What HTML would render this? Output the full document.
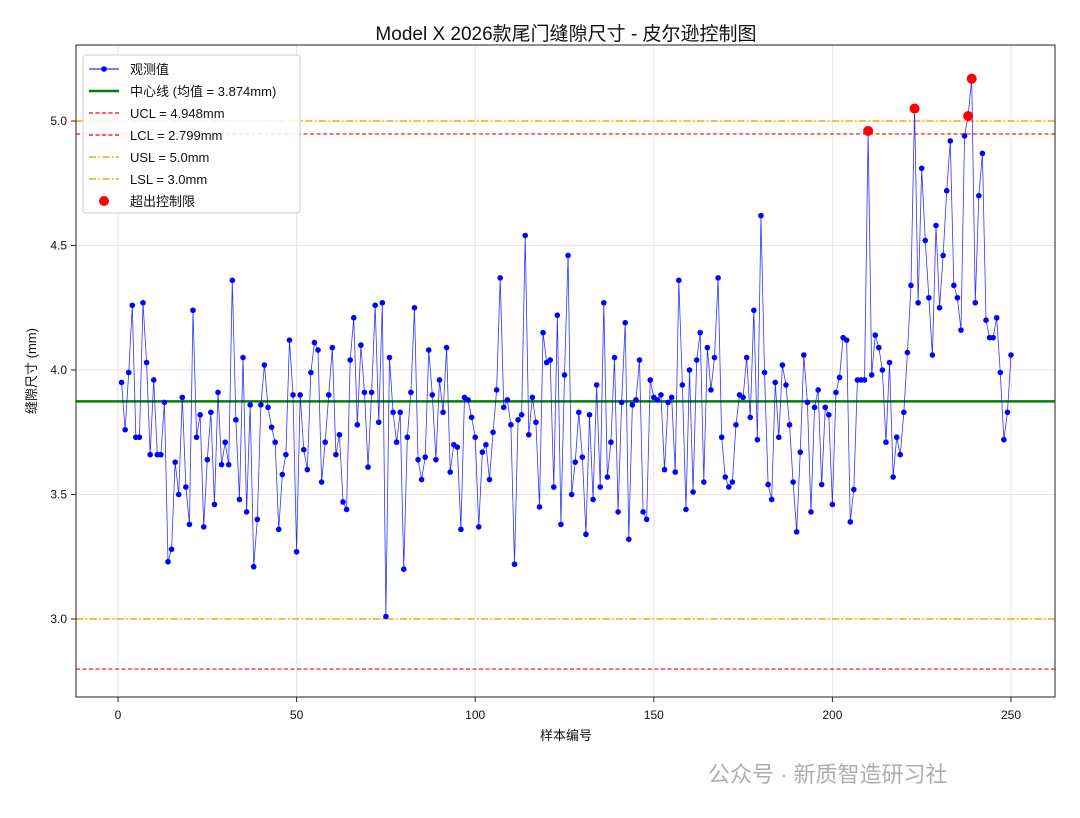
<!DOCTYPE html>
<html><head><meta charset="utf-8">
<style>
html,body{margin:0;padding:0;background:#fff;}
svg{display:block;font-family:"Liberation Sans","Noto Sans CJK SC",sans-serif;}
</style></head>
<body>
<svg id="chart" width="1080" height="818" viewBox="0 0 1080 818" xmlns="http://www.w3.org/2000/svg">
<rect x="0" y="0" width="1080" height="818" fill="#fff"/>
<text x="566" y="40" text-anchor="middle" font-size="19" fill="#111">Model X 2026款尾门缝隙尺寸 - 皮尔逊控制图</text>
<g id="grid"></g>
<g id="refs"></g>
<g id="series"></g>
<rect x="76" y="45" width="979" height="652" fill="none" stroke="#222" stroke-width="1"/>
<g id="axes"></g>
<text x="566" y="740" text-anchor="middle" font-size="13" fill="#111">样本编号</text>
<text transform="translate(36,371) rotate(-90)" text-anchor="middle" font-size="13" fill="#111">缝隙尺寸 (mm)</text>
<g>
<rect x="83" y="55" width="217" height="158" rx="3" fill="#fff" fill-opacity="0.85" stroke="#ccc"/>
<g><line x1="89" y1="69" x2="119" y2="69" stroke="#0000ff" stroke-width="1"/><circle cx="104" cy="69" r="2.8" fill="#0000ff"/><text x="130" y="74" font-size="13" fill="#111">观测值</text></g>
<g><line x1="89" y1="91" x2="119" y2="91" stroke="green" stroke-width="2.5"/><text x="130" y="96" font-size="13" fill="#111">中心线 (均值 = 3.874mm)</text></g>
<g><line x1="89" y1="113" x2="119" y2="113" stroke="red" stroke-width="1.2" stroke-dasharray="4,2.5"/><text x="130" y="118" font-size="13" fill="#111">UCL = 4.948mm</text></g>
<g><line x1="89" y1="135" x2="119" y2="135" stroke="red" stroke-width="1.2" stroke-dasharray="4,2.5"/><text x="130" y="140" font-size="13" fill="#111">LCL = 2.799mm</text></g>
<g><line x1="89" y1="157" x2="119" y2="157" stroke="orange" stroke-width="1.5" stroke-dasharray="7,2.5,1.5,2.5"/><text x="130" y="162" font-size="13" fill="#111">USL = 5.0mm</text></g>
<g><line x1="89" y1="179" x2="119" y2="179" stroke="orange" stroke-width="1.5" stroke-dasharray="7,2.5,1.5,2.5"/><text x="130" y="184" font-size="13" fill="#111">LSL = 3.0mm</text></g>
<g><circle cx="104" cy="201" r="5" fill="red"/><text x="130" y="206" font-size="13" fill="#111">超出控制限</text></g>
</g>
<text x="708" y="782" font-size="22" fill="#999" fill-opacity="0.8">公众号 · 新质智造研习社</text>
</svg>
<script>
const values = [3.95,3.76,3.99,4.26,3.73,3.73,4.27,4.03,3.66,3.96,3.66,3.66,3.87,3.23,3.28,3.63,3.50,3.89,3.53,3.38,
4.24,3.73,3.82,3.37,3.64,3.83,3.46,3.91,3.62,3.71,3.62,4.36,3.80,3.48,4.05,3.43,3.86,3.21,3.40,3.86,
4.02,3.85,3.77,3.71,3.36,3.58,3.66,4.12,3.90,3.27,3.90,3.68,3.60,3.99,4.11,4.08,3.55,3.71,3.90,4.09,
3.66,3.74,3.47,3.44,4.04,4.21,3.78,4.10,3.91,3.61,3.91,4.26,3.79,4.27,3.01,4.05,3.83,3.71,3.83,3.20,
3.73,3.91,4.25,3.64,3.56,3.65,4.08,3.90,3.64,3.96,3.83,4.09,3.59,3.70,3.69,3.36,3.89,3.88,3.81,3.73,
3.37,3.67,3.70,3.56,3.75,3.92,4.37,3.85,3.88,3.78,3.22,3.80,3.82,4.54,3.74,3.89,3.79,3.45,4.15,4.03,
4.04,3.53,4.22,3.38,3.98,4.46,3.50,3.63,3.83,3.65,3.34,3.82,3.48,3.94,3.53,4.27,3.57,3.71,4.05,3.43,
3.87,4.19,3.32,3.86,3.88,4.04,3.43,3.40,3.96,3.89,3.88,3.90,3.60,3.87,3.89,3.59,4.36,3.94,3.44,4.00,
3.51,4.04,4.15,3.55,4.09,3.92,4.05,4.37,3.73,3.57,3.53,3.55,3.78,3.90,3.89,4.05,3.81,4.24,3.72,4.62,
3.99,3.54,3.48,3.95,3.73,4.02,3.94,3.78,3.55,3.35,3.67,4.06,3.87,3.43,3.85,3.92,3.54,3.85,3.82,3.46,
3.91,3.97,4.13,4.12,3.39,3.52,3.96,3.96,3.96,4.96,3.98,4.14,4.09,4.00,3.71,4.03,3.57,3.73,3.66,3.83,
4.07,4.34,5.05,4.27,4.81,4.52,4.29,4.06,4.58,4.25,4.46,4.72,4.92,4.34,4.29,4.16,4.94,5.02,5.17,4.27,
4.70,4.87,4.20,4.13,4.13,4.21,3.99,3.72,3.83,4.06];
const xTicks = [0,50,100,150,200,250];
const yTicks = [3.0,3.5,4.0,4.5,5.0];
const yTickLabels = ["3.0","3.5","4.0","4.5","5.0"];
const centerLine = [3.874];
const controlLimits = [4.948, 2.799];
const specLimits = [5.0, 3.0];

const NS = "http://www.w3.org/2000/svg";
const xs = v => 118 + (v/250)*893;
const ys = v => 121 + (5.0 - v)*249;
function mk(tag, attrs, parent){const e=document.createElementNS(NS,tag);for(const k in attrs)e.setAttribute(k,attrs[k]);parent.appendChild(e);return e;}
const grid=document.getElementById('grid'), axes=document.getElementById('axes'), refs=document.getElementById('refs'), series=document.getElementById('series');

xTicks.forEach(t=>{
  const g=mk('line',{x1:xs(t),x2:xs(t),y1:45,y2:697,stroke:'#e6e6e6','stroke-width':1},grid);
  
  
  const tk=mk('line',{x1:xs(t),x2:xs(t),y1:697,y2:702,stroke:'#222'},axes);
  
  
  const tx=mk('text',{x:xs(t),y:719,'text-anchor':'middle','font-size':12,fill:'#111'},axes);
  tx.textContent=t;
  
  
});
yTicks.forEach((t,i)=>{
  const g=mk('line',{x1:76,x2:1055,y1:ys(t),y2:ys(t),stroke:'#e6e6e6','stroke-width':1},grid);
  
  
  const tk=mk('line',{x1:71,x2:76,y1:ys(t),y2:ys(t),stroke:'#222'},axes);
  
  
  const tx=mk('text',{x:67,y:ys(t)+4,'text-anchor':'end','font-size':12,fill:'#111'},axes);
  tx.textContent=yTickLabels[i];
  
  
});
specLimits.forEach(v=>{
  const l=mk('line',{x1:76,x2:1055,y1:ys(v),y2:ys(v),stroke:'orange','stroke-width':1.5,'stroke-dasharray':'7,2.5,1.5,2.5'},refs);
  
  
});
controlLimits.forEach(v=>{
  const l=mk('line',{x1:76,x2:1055,y1:ys(v),y2:ys(v),stroke:'red','stroke-width':1.2,'stroke-dasharray':'4,2.5'},refs);
  
  
});
const cl=mk('line',{x1:76,x2:1055,y1:ys(centerLine[0]),y2:ys(centerLine[0]),stroke:'green','stroke-width':2.5},refs);



const pts=values.map((v,i)=>xs(i+1).toFixed(2)+','+ys(v).toFixed(2)).join(' ');
const pl=mk('polyline',{points:pts,fill:'none',stroke:'#0000ff','stroke-width':0.8,'stroke-opacity':0.8},series);


values.forEach((v,i)=>{
  const c=mk('circle',{cx:xs(i+1),cy:ys(v),r:2.8,fill:'#0000ff'},series);
  
  
});
values.forEach((v,i)=>{
  if(v>controlLimits[0]||v<controlLimits[1]){
    const c=mk('circle',{cx:xs(i+1),cy:ys(v),r:5,fill:'red'},series);
    
    
  }
});
</script>
</body></html>
